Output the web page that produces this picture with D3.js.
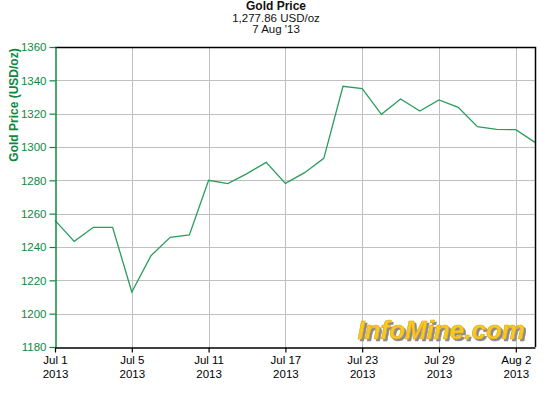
<!DOCTYPE html>
<html>
    <head>
        <meta charset="UTF-8" />
        <title>Gold Price</title>
        <style>
            body { margin: 0; background: #fff; }
            text { font-family: "Liberation Sans", Arial, sans-serif; }
        </style>
    </head>
    <body>
        <script src="https://d3js.org/d3.v7.min.js"></script>
        <script type="text/javascript">
            // trading days, Jul 1 - Aug 5 2013
            var dates = [
                "Jul 1", "Jul 2", "Jul 3", "Jul 4", "Jul 5",
                "Jul 8", "Jul 9", "Jul 10", "Jul 11", "Jul 12",
                "Jul 15", "Jul 16", "Jul 17", "Jul 18", "Jul 19",
                "Jul 22", "Jul 23", "Jul 24", "Jul 25", "Jul 26",
                "Jul 29", "Jul 30", "Jul 31", "Aug 1", "Aug 2", "Aug 5"
            ];
            var prices = [
                1256, 1243.4, 1251.8, 1251.8, 1213,
                1234.8, 1245.8, 1247.2, 1280, 1278,
                1284, 1290.8, 1278.2, 1284.6, 1293.2,
                1336.4, 1335, 1319.6, 1328.8, 1321.6,
                1328.2, 1323.8, 1312.2, 1310.6, 1310.4, 1302.8
            ];
            var xTickIdx = [0, 4, 8, 12, 16, 20, 24];
            var yTicks = [1180, 1200, 1220, 1240, 1260, 1280, 1300, 1320, 1340, 1360];
            var titleLines = ["Gold Price", "1,277.86 USD/oz", "7 Aug '13"];

            var width = 552, height = 394;
            // plot box (note: "top" is taken by window.top)
            var plotL = 55, plotR = 535, plotT = 47, plotB = 347;
            var green = "#0b8a3e";
            var lineGreen = "#2a9d5c";
            var grid = "#c0c0c0";

            var svg = d3
                .select("body")
                .append("svg")
                .attr("width", width)
                .attr("height", height);

            var x = d3.scaleLinear().domain([0, dates.length - 1]).range([plotL, plotR]);
            var y = d3.scaleLinear().domain([1180, 1360]).range([plotB, plotT]);

            // gridlines
            svg.append("g")
                .selectAll("line")
                .data(yTicks.slice(1, -1))
                .join("line")
                .attr("x1", plotL)
                .attr("x2", plotR)
                .attr("y1", function(d) { return Math.round(y(d)) + 0.5; })
                .attr("y2", function(d) { return Math.round(y(d)) + 0.5; })
                .attr("stroke", grid);

            svg.append("g")
                .selectAll("line")
                .data(xTickIdx.slice(1))
                .join("line")
                .attr("x1", function(d) { return Math.round(x(d)) + 0.5; })
                .attr("x2", function(d) { return Math.round(x(d)) + 0.5; })
                .attr("y1", plotT)
                .attr("y2", plotB)
                .attr("stroke", grid);

            // logo watermark, shadow through a filter
            var shadow = svg.append("defs")
                .append("filter")
                .attr("id", "logoShadow")
                .attr("x", "-5%").attr("y", "-20%")
                .attr("width", "115%").attr("height", "150%");
            shadow.append("feDropShadow")
                .attr("dx", 2).attr("dy", 2)
                .attr("stdDeviation", 0.6)
                .attr("flood-color", "#8a8a8a")
                .attr("flood-opacity", 1);

            svg.append("text")
                .attr("x", 525)
                .attr("y", 339)
                .attr("text-anchor", "end")
                .attr("font-weight", "bold")
                .attr("font-style", "italic")
                .attr("font-size", 26)
                .attr("fill", "#f7c923")
                .attr("stroke", "#e0a800")
                .attr("stroke-width", 0.6)
                .attr("filter", "url(#logoShadow)")
                .text("InfoMine.com");

            // price line
            var line = d3.line()
                .x(function(d, i) { return x(i); })
                .y(function(d) { return y(d); });

            svg.append("path")
                .datum(prices)
                .attr("fill", "none")
                .attr("stroke", lineGreen)
                .attr("stroke-width", 1.3)
                .attr("d", line);

            // frame: top and right black
            svg.append("path")
                .attr("fill", "none")
                .attr("stroke", "#000")
                .attr("stroke-width", 1.5)
                .attr("d", "M" + plotL + "," + (plotT + 0.5) + "H" + (plotR + 0.5) + "V" + plotB);

            // y axis
            var yAxis = svg.append("g")
                .attr("transform", "translate(" + (plotL + 0.5) + ",0)")
                .call(d3.axisLeft(y).tickValues(yTicks).tickSize(6).tickSizeOuter(0).tickPadding(3).tickFormat(d3.format("d")));
            yAxis.select(".domain").attr("stroke", green).attr("stroke-width", 1.5);
            yAxis.selectAll(".tick line").attr("stroke", green).attr("stroke-width", 1.2);
            yAxis.selectAll(".tick text")
                .attr("fill", green)
                .attr("font-size", 11.5)
                .attr("font-family", "Liberation Sans, Arial, sans-serif");

            // x axis
            var xAxis = svg.append("g")
                .attr("transform", "translate(0," + (plotB + 0.5) + ")")
                .call(d3.axisBottom(x).tickValues(xTickIdx).tickSize(5).tickSizeOuter(0).tickFormat(""));
            xAxis.select(".domain").attr("stroke", "#000").attr("stroke-width", 1.5);
            xAxis.selectAll(".tick line").attr("stroke", "#000").attr("stroke-width", 1.2);
            xAxis.selectAll(".tick")
                .append("text")
                .attr("fill", "#000")
                .attr("font-size", 11.5)
                .attr("font-family", "Liberation Sans, Arial, sans-serif")
                .attr("text-anchor", "middle")
                .selectAll("tspan")
                .data(function(d) { return [dates[d], "2013"]; })
                .join("tspan")
                .attr("x", 0)
                .attr("y", function(d, i) { return 16 + i * 14; })
                .text(function(d) { return d; });

            // y axis title
            svg.append("text")
                .attr("transform", "translate(18,105) rotate(-90)")
                .attr("text-anchor", "middle")
                .attr("fill", green)
                .attr("font-weight", "bold")
                .attr("font-size", 12)
                .text("Gold Price (USD/oz)");

            // title
            svg.append("g")
                .attr("text-anchor", "middle")
                .selectAll("text")
                .data(titleLines)
                .join("text")
                .attr("x", 276)
                .attr("y", function(d, i) { return 10 + i * 11.5; })
                .attr("font-size", function(d, i) { return i ? 11.5 : 12; })
                .attr("font-weight", function(d, i) { return i ? null : "bold"; })
                .attr("fill", "#111")
                .text(function(d) { return d; });
        </script>
    </body>
</html>
